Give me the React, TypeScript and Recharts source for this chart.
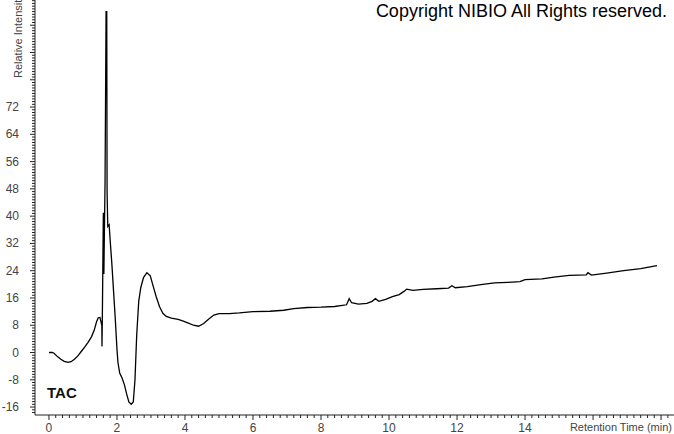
import React from 'react';
import { LineChart, Line, XAxis, YAxis } from 'recharts';

// retention time (min) and relative intensity
const times = [
  0.0, 0.1, 0.15, 0.25, 0.35, 0.45, 0.56, 0.65, 0.75, 0.85, 0.95, 1.05, 1.15, 1.25, 1.33, 1.4, 1.45, 1.5,
  1.53, 1.555, 1.56, 1.575, 1.6, 1.615, 1.65, 1.68, 1.7, 1.71, 1.73, 1.77, 1.8, 1.85, 1.9, 1.95, 2.0, 2.03,
  2.08, 2.15, 2.22, 2.28, 2.35, 2.42, 2.48, 2.53, 2.58, 2.64, 2.7, 2.78, 2.88, 2.98, 3.05, 3.15, 3.25, 3.35,
  3.45, 3.6, 3.8, 3.95, 4.1, 4.25, 4.4, 4.55, 4.7, 4.85, 5.0, 5.3, 5.6, 6.0, 6.5, 6.9, 7.2, 7.6, 8.0, 8.4,
  8.75, 8.83, 8.9, 9.1, 9.35, 9.5, 9.6, 9.7, 9.9, 10.1, 10.3, 10.45, 10.52, 10.7, 11.0, 11.4, 11.75, 11.85,
  11.95, 12.3, 12.7, 13.1, 13.5, 13.85, 14.0, 14.5, 14.85, 15.3, 15.8, 15.85, 15.95, 16.4, 16.9, 17.4, 17.88,
];
const intensity = [
  0.0, 0.0, -0.2, -1.2, -2.0, -2.6, -2.9, -2.7, -2.0, -1.0, 0.3, 1.6, 3.0, 4.6, 6.5, 9.0, 10.2, 10.3,
  9.0, 8.0, 1.8, 15, 41, 23, 50, 100, 100, 47, 37, 37.5, 33, 26, 18, 10, 1, -3,
  -6, -7.5, -9.5, -12, -14.5, -15.2, -14.5, -8, 5, 15, 19, 22, 23.4, 22.5, 20, 16.5, 13.5, 11.5,
  10.6, 10.1, 9.7, 9.2, 8.6, 8.0, 7.7, 8.5, 9.8, 11.0, 11.4, 11.4, 11.6, 12.0, 12.1, 12.4, 12.9, 13.2, 13.3, 13.5,
  14.0, 15.8, 14.6, 14.2, 14.4, 15.0, 15.8, 15.0, 15.6, 16.4, 17.0, 18.0, 18.6, 18.2, 18.5, 18.7, 18.9, 19.6,
  19.0, 19.3, 19.9, 20.4, 20.6, 20.8, 21.4, 21.6, 22.1, 22.6, 22.8, 23.4, 22.7, 23.3, 24.0, 24.6, 25.5,
];

const xLabels = [0, 2, 4, 6, 8, 10, 12, 14];
const yLabels = [-16, -8, 0, 8, 16, 24, 32, 40, 48, 56, 64, 72];

const data = times.map((t, i) => ({ t, v: intensity[i] }));

// minor ticks: every 0.2 min and every 0.8 intensity
const xTicks: number[] = [];
for (let i = 0; i <= 91; i++) xTicks.push(Math.round(i * 2) / 10);
const yTicks: number[] = [];
for (let i = -22; i <= 129; i++) yTicks.push(Math.round(i * 8) / 10);

const FONT = '"Liberation Sans", Arial, sans-serif';

const XTick = ({ x, y, payload }: any) => {
  const v = payload.value;
  const major = Math.abs(v / 2 - Math.round(v / 2)) < 1e-6;
  return (
    <g>
      <line x1={x} x2={x} y1={y} y2={y + (major ? 5 : 3)} stroke="#222" />
      {xLabels.includes(v) && (
        <text x={x} y={y + 17} textAnchor="middle" fontSize={12} fill="#444" fontFamily={FONT}>
          {v}
        </text>
      )}
    </g>
  );
};

const YTick = ({ x, y, payload }: any) => {
  const v = payload.value;
  const major = Math.abs(v / 8 - Math.round(v / 8)) < 1e-6;
  return (
    <g>
      <line x1={x - (major ? 5 : 3)} x2={x} y1={y} y2={y} stroke="#222" />
      {yLabels.includes(v) && (
        <text x={x - 16} y={y + 4} textAnchor="end" fontSize={12} fill="#444" fontFamily={FONT}>
          {v}
        </text>
      )}
    </g>
  );
};

export default function App() {
  return (
    <div style={{ position: 'fixed', left: 0, top: 0, width: 674, height: 434, background: '#fff', overflow: 'hidden' }}>
      <LineChart width={674} height={434} data={data} margin={{ top: 0, right: 0, bottom: 0, left: 0 }}>
        <XAxis
          type="number"
          dataKey="t"
          domain={[-0.41, 18.38]}
          allowDataOverflow
          ticks={xTicks}
          interval={0}
          tick={<XTick />}
          tickLine={false}
          tickSize={0}
          tickMargin={0}
          height={19}
          stroke="#222"
        />
        <YAxis
          type="number"
          dataKey="v"
          domain={[-18.33, 103.4]}
          allowDataOverflow
          ticks={yTicks}
          interval={0}
          tick={<YTick />}
          tickLine={false}
          tickSize={0}
          tickMargin={0}
          width={35}
          stroke="#222"
        />
        <Line type="linear" dataKey="v" stroke="#000" strokeWidth={1.3} dot={false} isAnimationActive={false} />
      </LineChart>
      <div
        style={{
          position: 'absolute', left: 12, top: 78, transform: 'rotate(-90deg)', transformOrigin: '0 0',
          fontFamily: FONT, fontSize: 11, color: '#444', whiteSpace: 'nowrap', lineHeight: '12px',
        }}
      >
        Relative Intensity
      </div>
      <div style={{ position: 'absolute', right: 7, top: 1, fontFamily: FONT, fontSize: 18, color: '#000', whiteSpace: 'nowrap' }}>
        Copyright NIBIO All Rights reserved.
      </div>
      <div style={{ position: 'absolute', left: 47, top: 384, fontFamily: FONT, fontSize: 15, fontWeight: 'bold', color: '#111' }}>
        TAC
      </div>
      <div style={{ position: 'absolute', right: 2, top: 421, fontFamily: FONT, fontSize: 11, color: '#444', whiteSpace: 'nowrap' }}>
        Retention Time (min)
      </div>
    </div>
  );
}
